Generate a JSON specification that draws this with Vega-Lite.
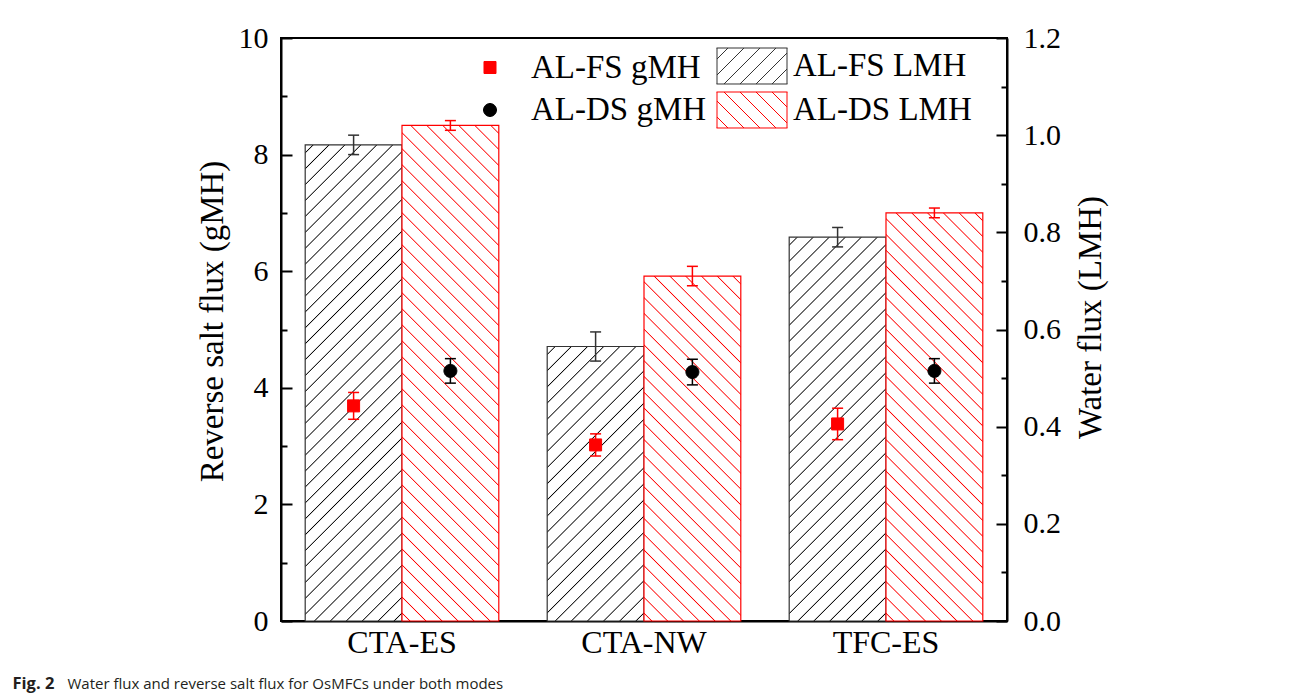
{
  "$schema": "https://vega.github.io/schema/vega-lite/v6.json",
  "width": 726,
  "height": 583,
  "autosize": "none",
  "padding": {"left": 281, "top": 38, "right": 285, "bottom": 74},
  "background": "white",
  "data": {
    "values": [
      {"membrane": "CTA-ES", "mode": "FS", "measure": "gMH", "series": "AL-FS gMH", "value": 3.69, "err": 0.23},
      {"membrane": "CTA-ES", "mode": "DS", "measure": "gMH", "series": "AL-DS gMH", "value": 4.29, "err": 0.21},
      {"membrane": "CTA-NW", "mode": "FS", "measure": "gMH", "series": "AL-FS gMH", "value": 3.02, "err": 0.19},
      {"membrane": "CTA-NW", "mode": "DS", "measure": "gMH", "series": "AL-DS gMH", "value": 4.27, "err": 0.22},
      {"membrane": "TFC-ES", "mode": "FS", "measure": "gMH", "series": "AL-FS gMH", "value": 3.38, "err": 0.27},
      {"membrane": "TFC-ES", "mode": "DS", "measure": "gMH", "series": "AL-DS gMH", "value": 4.29, "err": 0.21},
      {"membrane": "CTA-ES", "mode": "FS", "measure": "LMH", "series": "AL-FS LMH", "value": 0.98, "err": 0.02},
      {"membrane": "CTA-ES", "mode": "DS", "measure": "LMH", "series": "AL-DS LMH", "value": 1.02, "err": 0.01},
      {"membrane": "CTA-NW", "mode": "FS", "measure": "LMH", "series": "AL-FS LMH", "value": 0.565, "err": 0.03},
      {"membrane": "CTA-NW", "mode": "DS", "measure": "LMH", "series": "AL-DS LMH", "value": 0.71, "err": 0.02},
      {"membrane": "TFC-ES", "mode": "FS", "measure": "LMH", "series": "AL-FS LMH", "value": 0.79, "err": 0.02},
      {"membrane": "TFC-ES", "mode": "DS", "measure": "LMH", "series": "AL-DS LMH", "value": 0.84, "err": 0.01}
    ]
  },
  "layer": [
    {
      "transform": [{"filter": "datum.measure === 'LMH'"}],
      "encoding": {
        "x": {"field": "membrane", "type": "nominal", "scale": {"domain": ["CTA-ES", "CTA-NW", "TFC-ES"], "paddingInner": 0.2, "paddingOuter": 0.1},
          "axis": {"orient": "bottom", "title": "Water flux and reverse salt flux for OsMFCs under both modes", "titleX": -214, "titleY": 67, "titleAlign": "left", "titleBaseline": "alphabetic", "titleFont": "Open Sans", "titleFontSize": 15, "titleFontWeight": "normal", "titleColor": "#231f20", "labelAngle": 0, "labelFontSize": 32, "labelPadding": 6, "ticks": false}},
        "xOffset": {"field": "mode", "type": "nominal", "scale": {"domain": ["FS", "DS"], "paddingInner": 0, "paddingOuter": 0}},
        "y": {"field": "value", "type": "quantitative", "scale": {"domain": [0, 1.2], "nice": false},
          "axis": {"orient": "right", "title": "Water flux (LMH)", "values": [0, 0.2, 0.4, 0.6, 0.8, 1.0, 1.2], "format": ".1f", "tickSize": -11, "labelPadding": 27, "titleAngle": 270, "titleX": 83, "titleY": 279, "titleBaseline": "middle", "titleAlign": "center"}}
      },
      "layer": [
        {
          "mark": {"type": "bar", "strokeWidth": 1.2},
          "encoding": {
            "stroke": {"field": "series", "type": "nominal", "scale": {"domain": ["AL-FS gMH", "AL-FS LMH", "AL-DS gMH", "AL-DS LMH"], "range": ["#ff0000", "#333333", "#000000", "#ff0000"]}, "legend": {"title": null, "orient": "none", "legendX": 191, "legendY": 10, "columns": 2, "direction": "horizontal"}},
            "fill": {
              "condition": [
                {"test": "datum.membrane === 'CTA-ES' && datum.mode === 'FS'", "value": {"gradient": "linear", "x1": 0, "y1": 0, "x2": 0.2349, "y2": 1.1555, "stops": [
{"offset":0.0119,"color":"#fff"},{"offset":0.0139,"color":"#000"},{"offset":0.0159,"color":"#fff"},
{"offset":0.0397,"color":"#fff"},{"offset":0.0417,"color":"#000"},{"offset":0.0437,"color":"#fff"},
{"offset":0.0674,"color":"#fff"},{"offset":0.0694,"color":"#000"},{"offset":0.0714,"color":"#fff"},
{"offset":0.0952,"color":"#fff"},{"offset":0.0972,"color":"#000"},{"offset":0.0992,"color":"#fff"},
{"offset":0.1230,"color":"#fff"},{"offset":0.1250,"color":"#000"},{"offset":0.1270,"color":"#fff"},
{"offset":0.1508,"color":"#fff"},{"offset":0.1528,"color":"#000"},{"offset":0.1548,"color":"#fff"},
{"offset":0.1786,"color":"#fff"},{"offset":0.1806,"color":"#000"},{"offset":0.1826,"color":"#fff"},
{"offset":0.2063,"color":"#fff"},{"offset":0.2083,"color":"#000"},{"offset":0.2103,"color":"#fff"},
{"offset":0.2341,"color":"#fff"},{"offset":0.2361,"color":"#000"},{"offset":0.2381,"color":"#fff"},
{"offset":0.2619,"color":"#fff"},{"offset":0.2639,"color":"#000"},{"offset":0.2659,"color":"#fff"},
{"offset":0.2897,"color":"#fff"},{"offset":0.2917,"color":"#000"},{"offset":0.2937,"color":"#fff"},
{"offset":0.3174,"color":"#fff"},{"offset":0.3194,"color":"#000"},{"offset":0.3214,"color":"#fff"},
{"offset":0.3452,"color":"#fff"},{"offset":0.3472,"color":"#000"},{"offset":0.3492,"color":"#fff"},
{"offset":0.3730,"color":"#fff"},{"offset":0.3750,"color":"#000"},{"offset":0.3770,"color":"#fff"},
{"offset":0.4008,"color":"#fff"},{"offset":0.4028,"color":"#000"},{"offset":0.4048,"color":"#fff"},
{"offset":0.4286,"color":"#fff"},{"offset":0.4306,"color":"#000"},{"offset":0.4326,"color":"#fff"},
{"offset":0.4563,"color":"#fff"},{"offset":0.4583,"color":"#000"},{"offset":0.4603,"color":"#fff"},
{"offset":0.4841,"color":"#fff"},{"offset":0.4861,"color":"#000"},{"offset":0.4881,"color":"#fff"},
{"offset":0.5119,"color":"#fff"},{"offset":0.5139,"color":"#000"},{"offset":0.5159,"color":"#fff"},
{"offset":0.5397,"color":"#fff"},{"offset":0.5417,"color":"#000"},{"offset":0.5437,"color":"#fff"},
{"offset":0.5674,"color":"#fff"},{"offset":0.5694,"color":"#000"},{"offset":0.5714,"color":"#fff"},
{"offset":0.5952,"color":"#fff"},{"offset":0.5972,"color":"#000"},{"offset":0.5992,"color":"#fff"},
{"offset":0.6230,"color":"#fff"},{"offset":0.6250,"color":"#000"},{"offset":0.6270,"color":"#fff"},
{"offset":0.6508,"color":"#fff"},{"offset":0.6528,"color":"#000"},{"offset":0.6548,"color":"#fff"},
{"offset":0.6786,"color":"#fff"},{"offset":0.6806,"color":"#000"},{"offset":0.6826,"color":"#fff"},
{"offset":0.7063,"color":"#fff"},{"offset":0.7083,"color":"#000"},{"offset":0.7103,"color":"#fff"},
{"offset":0.7341,"color":"#fff"},{"offset":0.7361,"color":"#000"},{"offset":0.7381,"color":"#fff"},
{"offset":0.7619,"color":"#fff"},{"offset":0.7639,"color":"#000"},{"offset":0.7659,"color":"#fff"},
{"offset":0.7897,"color":"#fff"},{"offset":0.7917,"color":"#000"},{"offset":0.7937,"color":"#fff"},
{"offset":0.8174,"color":"#fff"},{"offset":0.8194,"color":"#000"},{"offset":0.8214,"color":"#fff"},
{"offset":0.8452,"color":"#fff"},{"offset":0.8472,"color":"#000"},{"offset":0.8492,"color":"#fff"},
{"offset":0.8730,"color":"#fff"},{"offset":0.8750,"color":"#000"},{"offset":0.8770,"color":"#fff"},
{"offset":0.9008,"color":"#fff"},{"offset":0.9028,"color":"#000"},{"offset":0.9048,"color":"#fff"},
{"offset":0.9286,"color":"#fff"},{"offset":0.9306,"color":"#000"},{"offset":0.9326,"color":"#fff"},
{"offset":0.9563,"color":"#fff"},{"offset":0.9583,"color":"#000"},{"offset":0.9603,"color":"#fff"},
{"offset":0.9841,"color":"#fff"},{"offset":0.9861,"color":"#000"},{"offset":0.9881,"color":"#fff"}
                ]}},
                {"test": "datum.membrane === 'CTA-ES' && datum.mode === 'DS'", "value": {"gradient": "linear", "x1": 0, "y1": 1, "x2": 0.2249, "y2": -0.1514, "stops": [
{"offset":0.0116,"color":"#fff"},{"offset":0.0135,"color":"#f00"},{"offset":0.0154,"color":"#fff"},
{"offset":0.0386,"color":"#fff"},{"offset":0.0405,"color":"#f00"},{"offset":0.0424,"color":"#fff"},
{"offset":0.0657,"color":"#fff"},{"offset":0.0676,"color":"#f00"},{"offset":0.0695,"color":"#fff"},
{"offset":0.0927,"color":"#fff"},{"offset":0.0946,"color":"#f00"},{"offset":0.0965,"color":"#fff"},
{"offset":0.1197,"color":"#fff"},{"offset":0.1216,"color":"#f00"},{"offset":0.1235,"color":"#fff"},
{"offset":0.1467,"color":"#fff"},{"offset":0.1486,"color":"#f00"},{"offset":0.1505,"color":"#fff"},
{"offset":0.1738,"color":"#fff"},{"offset":0.1757,"color":"#f00"},{"offset":0.1776,"color":"#fff"},
{"offset":0.2008,"color":"#fff"},{"offset":0.2027,"color":"#f00"},{"offset":0.2046,"color":"#fff"},
{"offset":0.2278,"color":"#fff"},{"offset":0.2297,"color":"#f00"},{"offset":0.2316,"color":"#fff"},
{"offset":0.2549,"color":"#fff"},{"offset":0.2568,"color":"#f00"},{"offset":0.2587,"color":"#fff"},
{"offset":0.2819,"color":"#fff"},{"offset":0.2838,"color":"#f00"},{"offset":0.2857,"color":"#fff"},
{"offset":0.3089,"color":"#fff"},{"offset":0.3108,"color":"#f00"},{"offset":0.3127,"color":"#fff"},
{"offset":0.3359,"color":"#fff"},{"offset":0.3378,"color":"#f00"},{"offset":0.3397,"color":"#fff"},
{"offset":0.3630,"color":"#fff"},{"offset":0.3649,"color":"#f00"},{"offset":0.3668,"color":"#fff"},
{"offset":0.3900,"color":"#fff"},{"offset":0.3919,"color":"#f00"},{"offset":0.3938,"color":"#fff"},
{"offset":0.4170,"color":"#fff"},{"offset":0.4189,"color":"#f00"},{"offset":0.4208,"color":"#fff"},
{"offset":0.4440,"color":"#fff"},{"offset":0.4459,"color":"#f00"},{"offset":0.4478,"color":"#fff"},
{"offset":0.4711,"color":"#fff"},{"offset":0.4730,"color":"#f00"},{"offset":0.4749,"color":"#fff"},
{"offset":0.4981,"color":"#fff"},{"offset":0.5000,"color":"#f00"},{"offset":0.5019,"color":"#fff"},
{"offset":0.5251,"color":"#fff"},{"offset":0.5270,"color":"#f00"},{"offset":0.5289,"color":"#fff"},
{"offset":0.5522,"color":"#fff"},{"offset":0.5541,"color":"#f00"},{"offset":0.5560,"color":"#fff"},
{"offset":0.5792,"color":"#fff"},{"offset":0.5811,"color":"#f00"},{"offset":0.5830,"color":"#fff"},
{"offset":0.6062,"color":"#fff"},{"offset":0.6081,"color":"#f00"},{"offset":0.6100,"color":"#fff"},
{"offset":0.6332,"color":"#fff"},{"offset":0.6351,"color":"#f00"},{"offset":0.6370,"color":"#fff"},
{"offset":0.6603,"color":"#fff"},{"offset":0.6622,"color":"#f00"},{"offset":0.6641,"color":"#fff"},
{"offset":0.6873,"color":"#fff"},{"offset":0.6892,"color":"#f00"},{"offset":0.6911,"color":"#fff"},
{"offset":0.7143,"color":"#fff"},{"offset":0.7162,"color":"#f00"},{"offset":0.7181,"color":"#fff"},
{"offset":0.7413,"color":"#fff"},{"offset":0.7432,"color":"#f00"},{"offset":0.7451,"color":"#fff"},
{"offset":0.7684,"color":"#fff"},{"offset":0.7703,"color":"#f00"},{"offset":0.7722,"color":"#fff"},
{"offset":0.7954,"color":"#fff"},{"offset":0.7973,"color":"#f00"},{"offset":0.7992,"color":"#fff"},
{"offset":0.8224,"color":"#fff"},{"offset":0.8243,"color":"#f00"},{"offset":0.8262,"color":"#fff"},
{"offset":0.8495,"color":"#fff"},{"offset":0.8514,"color":"#f00"},{"offset":0.8533,"color":"#fff"},
{"offset":0.8765,"color":"#fff"},{"offset":0.8784,"color":"#f00"},{"offset":0.8803,"color":"#fff"},
{"offset":0.9035,"color":"#fff"},{"offset":0.9054,"color":"#f00"},{"offset":0.9073,"color":"#fff"},
{"offset":0.9305,"color":"#fff"},{"offset":0.9324,"color":"#f00"},{"offset":0.9343,"color":"#fff"},
{"offset":0.9576,"color":"#fff"},{"offset":0.9595,"color":"#f00"},{"offset":0.9614,"color":"#fff"},
{"offset":0.9846,"color":"#fff"},{"offset":0.9865,"color":"#f00"},{"offset":0.9884,"color":"#fff"}
                ]}},
                {"test": "datum.membrane === 'CTA-NW' && datum.mode === 'FS'", "value": {"gradient": "linear", "x1": 0, "y1": 0, "x2": 0.4242, "y2": 1.2030, "stops": [
{"offset":0.0186,"color":"#fff"},{"offset":0.0217,"color":"#000"},{"offset":0.0248,"color":"#fff"},
{"offset":0.0621,"color":"#fff"},{"offset":0.0652,"color":"#000"},{"offset":0.0683,"color":"#fff"},
{"offset":0.1056,"color":"#fff"},{"offset":0.1087,"color":"#000"},{"offset":0.1118,"color":"#fff"},
{"offset":0.1491,"color":"#fff"},{"offset":0.1522,"color":"#000"},{"offset":0.1553,"color":"#fff"},
{"offset":0.1926,"color":"#fff"},{"offset":0.1957,"color":"#000"},{"offset":0.1988,"color":"#fff"},
{"offset":0.2360,"color":"#fff"},{"offset":0.2391,"color":"#000"},{"offset":0.2422,"color":"#fff"},
{"offset":0.2795,"color":"#fff"},{"offset":0.2826,"color":"#000"},{"offset":0.2857,"color":"#fff"},
{"offset":0.3230,"color":"#fff"},{"offset":0.3261,"color":"#000"},{"offset":0.3292,"color":"#fff"},
{"offset":0.3665,"color":"#fff"},{"offset":0.3696,"color":"#000"},{"offset":0.3727,"color":"#fff"},
{"offset":0.4099,"color":"#fff"},{"offset":0.4130,"color":"#000"},{"offset":0.4161,"color":"#fff"},
{"offset":0.4534,"color":"#fff"},{"offset":0.4565,"color":"#000"},{"offset":0.4596,"color":"#fff"},
{"offset":0.4969,"color":"#fff"},{"offset":0.5000,"color":"#000"},{"offset":0.5031,"color":"#fff"},
{"offset":0.5404,"color":"#fff"},{"offset":0.5435,"color":"#000"},{"offset":0.5466,"color":"#fff"},
{"offset":0.5839,"color":"#fff"},{"offset":0.5870,"color":"#000"},{"offset":0.5901,"color":"#fff"},
{"offset":0.6273,"color":"#fff"},{"offset":0.6304,"color":"#000"},{"offset":0.6335,"color":"#fff"},
{"offset":0.6708,"color":"#fff"},{"offset":0.6739,"color":"#000"},{"offset":0.6770,"color":"#fff"},
{"offset":0.7143,"color":"#fff"},{"offset":0.7174,"color":"#000"},{"offset":0.7205,"color":"#fff"},
{"offset":0.7578,"color":"#fff"},{"offset":0.7609,"color":"#000"},{"offset":0.7640,"color":"#fff"},
{"offset":0.8012,"color":"#fff"},{"offset":0.8043,"color":"#000"},{"offset":0.8074,"color":"#fff"},
{"offset":0.8447,"color":"#fff"},{"offset":0.8478,"color":"#000"},{"offset":0.8509,"color":"#fff"},
{"offset":0.8882,"color":"#fff"},{"offset":0.8913,"color":"#000"},{"offset":0.8944,"color":"#fff"},
{"offset":0.9317,"color":"#fff"},{"offset":0.9348,"color":"#000"},{"offset":0.9379,"color":"#fff"},
{"offset":0.9752,"color":"#fff"},{"offset":0.9783,"color":"#000"},{"offset":0.9814,"color":"#fff"}
                ]}},
                {"test": "datum.membrane === 'CTA-NW' && datum.mode === 'DS'", "value": {"gradient": "linear", "x1": 0, "y1": 1, "x2": 0.3332, "y2": -0.1872, "stops": [
{"offset":0.0153,"color":"#fff"},{"offset":0.0179,"color":"#f00"},{"offset":0.0205,"color":"#fff"},
{"offset":0.0510,"color":"#fff"},{"offset":0.0536,"color":"#f00"},{"offset":0.0562,"color":"#fff"},
{"offset":0.0867,"color":"#fff"},{"offset":0.0893,"color":"#f00"},{"offset":0.0919,"color":"#fff"},
{"offset":0.1224,"color":"#fff"},{"offset":0.1250,"color":"#f00"},{"offset":0.1276,"color":"#fff"},
{"offset":0.1581,"color":"#fff"},{"offset":0.1607,"color":"#f00"},{"offset":0.1633,"color":"#fff"},
{"offset":0.1938,"color":"#fff"},{"offset":0.1964,"color":"#f00"},{"offset":0.1990,"color":"#fff"},
{"offset":0.2295,"color":"#fff"},{"offset":0.2321,"color":"#f00"},{"offset":0.2347,"color":"#fff"},
{"offset":0.2653,"color":"#fff"},{"offset":0.2679,"color":"#f00"},{"offset":0.2705,"color":"#fff"},
{"offset":0.3010,"color":"#fff"},{"offset":0.3036,"color":"#f00"},{"offset":0.3062,"color":"#fff"},
{"offset":0.3367,"color":"#fff"},{"offset":0.3393,"color":"#f00"},{"offset":0.3419,"color":"#fff"},
{"offset":0.3724,"color":"#fff"},{"offset":0.3750,"color":"#f00"},{"offset":0.3776,"color":"#fff"},
{"offset":0.4081,"color":"#fff"},{"offset":0.4107,"color":"#f00"},{"offset":0.4133,"color":"#fff"},
{"offset":0.4438,"color":"#fff"},{"offset":0.4464,"color":"#f00"},{"offset":0.4490,"color":"#fff"},
{"offset":0.4795,"color":"#fff"},{"offset":0.4821,"color":"#f00"},{"offset":0.4847,"color":"#fff"},
{"offset":0.5153,"color":"#fff"},{"offset":0.5179,"color":"#f00"},{"offset":0.5205,"color":"#fff"},
{"offset":0.5510,"color":"#fff"},{"offset":0.5536,"color":"#f00"},{"offset":0.5562,"color":"#fff"},
{"offset":0.5867,"color":"#fff"},{"offset":0.5893,"color":"#f00"},{"offset":0.5919,"color":"#fff"},
{"offset":0.6224,"color":"#fff"},{"offset":0.6250,"color":"#f00"},{"offset":0.6276,"color":"#fff"},
{"offset":0.6581,"color":"#fff"},{"offset":0.6607,"color":"#f00"},{"offset":0.6633,"color":"#fff"},
{"offset":0.6938,"color":"#fff"},{"offset":0.6964,"color":"#f00"},{"offset":0.6990,"color":"#fff"},
{"offset":0.7295,"color":"#fff"},{"offset":0.7321,"color":"#f00"},{"offset":0.7347,"color":"#fff"},
{"offset":0.7653,"color":"#fff"},{"offset":0.7679,"color":"#f00"},{"offset":0.7705,"color":"#fff"},
{"offset":0.8010,"color":"#fff"},{"offset":0.8036,"color":"#f00"},{"offset":0.8062,"color":"#fff"},
{"offset":0.8367,"color":"#fff"},{"offset":0.8393,"color":"#f00"},{"offset":0.8419,"color":"#fff"},
{"offset":0.8724,"color":"#fff"},{"offset":0.8750,"color":"#f00"},{"offset":0.8776,"color":"#fff"},
{"offset":0.9081,"color":"#fff"},{"offset":0.9107,"color":"#f00"},{"offset":0.9133,"color":"#fff"},
{"offset":0.9438,"color":"#fff"},{"offset":0.9464,"color":"#f00"},{"offset":0.9490,"color":"#fff"},
{"offset":0.9795,"color":"#fff"},{"offset":0.9821,"color":"#f00"},{"offset":0.9847,"color":"#fff"}
                ]}},
                {"test": "datum.membrane === 'TFC-ES' && datum.mode === 'FS'", "value": {"gradient": "linear", "x1": 0, "y1": 0, "x2": 0.2969, "y2": 1.1773, "stops": [
{"offset":0.0143,"color":"#fff"},{"offset":0.0167,"color":"#000"},{"offset":0.0191,"color":"#fff"},
{"offset":0.0476,"color":"#fff"},{"offset":0.0500,"color":"#000"},{"offset":0.0524,"color":"#fff"},
{"offset":0.0809,"color":"#fff"},{"offset":0.0833,"color":"#000"},{"offset":0.0857,"color":"#fff"},
{"offset":0.1143,"color":"#fff"},{"offset":0.1167,"color":"#000"},{"offset":0.1191,"color":"#fff"},
{"offset":0.1476,"color":"#fff"},{"offset":0.1500,"color":"#000"},{"offset":0.1524,"color":"#fff"},
{"offset":0.1809,"color":"#fff"},{"offset":0.1833,"color":"#000"},{"offset":0.1857,"color":"#fff"},
{"offset":0.2143,"color":"#fff"},{"offset":0.2167,"color":"#000"},{"offset":0.2191,"color":"#fff"},
{"offset":0.2476,"color":"#fff"},{"offset":0.2500,"color":"#000"},{"offset":0.2524,"color":"#fff"},
{"offset":0.2809,"color":"#fff"},{"offset":0.2833,"color":"#000"},{"offset":0.2857,"color":"#fff"},
{"offset":0.3143,"color":"#fff"},{"offset":0.3167,"color":"#000"},{"offset":0.3191,"color":"#fff"},
{"offset":0.3476,"color":"#fff"},{"offset":0.3500,"color":"#000"},{"offset":0.3524,"color":"#fff"},
{"offset":0.3809,"color":"#fff"},{"offset":0.3833,"color":"#000"},{"offset":0.3857,"color":"#fff"},
{"offset":0.4143,"color":"#fff"},{"offset":0.4167,"color":"#000"},{"offset":0.4191,"color":"#fff"},
{"offset":0.4476,"color":"#fff"},{"offset":0.4500,"color":"#000"},{"offset":0.4524,"color":"#fff"},
{"offset":0.4809,"color":"#fff"},{"offset":0.4833,"color":"#000"},{"offset":0.4857,"color":"#fff"},
{"offset":0.5143,"color":"#fff"},{"offset":0.5167,"color":"#000"},{"offset":0.5191,"color":"#fff"},
{"offset":0.5476,"color":"#fff"},{"offset":0.5500,"color":"#000"},{"offset":0.5524,"color":"#fff"},
{"offset":0.5809,"color":"#fff"},{"offset":0.5833,"color":"#000"},{"offset":0.5857,"color":"#fff"},
{"offset":0.6143,"color":"#fff"},{"offset":0.6167,"color":"#000"},{"offset":0.6191,"color":"#fff"},
{"offset":0.6476,"color":"#fff"},{"offset":0.6500,"color":"#000"},{"offset":0.6524,"color":"#fff"},
{"offset":0.6809,"color":"#fff"},{"offset":0.6833,"color":"#000"},{"offset":0.6857,"color":"#fff"},
{"offset":0.7143,"color":"#fff"},{"offset":0.7167,"color":"#000"},{"offset":0.7191,"color":"#fff"},
{"offset":0.7476,"color":"#fff"},{"offset":0.7500,"color":"#000"},{"offset":0.7524,"color":"#fff"},
{"offset":0.7809,"color":"#fff"},{"offset":0.7833,"color":"#000"},{"offset":0.7857,"color":"#fff"},
{"offset":0.8143,"color":"#fff"},{"offset":0.8167,"color":"#000"},{"offset":0.8191,"color":"#fff"},
{"offset":0.8476,"color":"#fff"},{"offset":0.8500,"color":"#000"},{"offset":0.8524,"color":"#fff"},
{"offset":0.8809,"color":"#fff"},{"offset":0.8833,"color":"#000"},{"offset":0.8857,"color":"#fff"},
{"offset":0.9143,"color":"#fff"},{"offset":0.9167,"color":"#000"},{"offset":0.9191,"color":"#fff"},
{"offset":0.9476,"color":"#fff"},{"offset":0.9500,"color":"#000"},{"offset":0.9524,"color":"#fff"},
{"offset":0.9809,"color":"#fff"},{"offset":0.9833,"color":"#000"},{"offset":0.9857,"color":"#fff"}
                ]}}
              ],
              "value": {"gradient": "linear", "x1": 0, "y1": 1, "x2": 0.2778, "y2": -0.1713, "stops": [
{"offset":0.0133,"color":"#fff"},{"offset":0.0156,"color":"#f00"},{"offset":0.0179,"color":"#fff"},
{"offset":0.0446,"color":"#fff"},{"offset":0.0469,"color":"#f00"},{"offset":0.0492,"color":"#fff"},
{"offset":0.0758,"color":"#fff"},{"offset":0.0781,"color":"#f00"},{"offset":0.0804,"color":"#fff"},
{"offset":0.1071,"color":"#fff"},{"offset":0.1094,"color":"#f00"},{"offset":0.1117,"color":"#fff"},
{"offset":0.1383,"color":"#fff"},{"offset":0.1406,"color":"#f00"},{"offset":0.1429,"color":"#fff"},
{"offset":0.1696,"color":"#fff"},{"offset":0.1719,"color":"#f00"},{"offset":0.1742,"color":"#fff"},
{"offset":0.2008,"color":"#fff"},{"offset":0.2031,"color":"#f00"},{"offset":0.2054,"color":"#fff"},
{"offset":0.2321,"color":"#fff"},{"offset":0.2344,"color":"#f00"},{"offset":0.2367,"color":"#fff"},
{"offset":0.2633,"color":"#fff"},{"offset":0.2656,"color":"#f00"},{"offset":0.2679,"color":"#fff"},
{"offset":0.2946,"color":"#fff"},{"offset":0.2969,"color":"#f00"},{"offset":0.2992,"color":"#fff"},
{"offset":0.3258,"color":"#fff"},{"offset":0.3281,"color":"#f00"},{"offset":0.3304,"color":"#fff"},
{"offset":0.3571,"color":"#fff"},{"offset":0.3594,"color":"#f00"},{"offset":0.3617,"color":"#fff"},
{"offset":0.3883,"color":"#fff"},{"offset":0.3906,"color":"#f00"},{"offset":0.3929,"color":"#fff"},
{"offset":0.4196,"color":"#fff"},{"offset":0.4219,"color":"#f00"},{"offset":0.4242,"color":"#fff"},
{"offset":0.4508,"color":"#fff"},{"offset":0.4531,"color":"#f00"},{"offset":0.4554,"color":"#fff"},
{"offset":0.4821,"color":"#fff"},{"offset":0.4844,"color":"#f00"},{"offset":0.4867,"color":"#fff"},
{"offset":0.5133,"color":"#fff"},{"offset":0.5156,"color":"#f00"},{"offset":0.5179,"color":"#fff"},
{"offset":0.5446,"color":"#fff"},{"offset":0.5469,"color":"#f00"},{"offset":0.5492,"color":"#fff"},
{"offset":0.5758,"color":"#fff"},{"offset":0.5781,"color":"#f00"},{"offset":0.5804,"color":"#fff"},
{"offset":0.6071,"color":"#fff"},{"offset":0.6094,"color":"#f00"},{"offset":0.6117,"color":"#fff"},
{"offset":0.6383,"color":"#fff"},{"offset":0.6406,"color":"#f00"},{"offset":0.6429,"color":"#fff"},
{"offset":0.6696,"color":"#fff"},{"offset":0.6719,"color":"#f00"},{"offset":0.6742,"color":"#fff"},
{"offset":0.7008,"color":"#fff"},{"offset":0.7031,"color":"#f00"},{"offset":0.7054,"color":"#fff"},
{"offset":0.7321,"color":"#fff"},{"offset":0.7344,"color":"#f00"},{"offset":0.7367,"color":"#fff"},
{"offset":0.7633,"color":"#fff"},{"offset":0.7656,"color":"#f00"},{"offset":0.7679,"color":"#fff"},
{"offset":0.7946,"color":"#fff"},{"offset":0.7969,"color":"#f00"},{"offset":0.7992,"color":"#fff"},
{"offset":0.8258,"color":"#fff"},{"offset":0.8281,"color":"#f00"},{"offset":0.8304,"color":"#fff"},
{"offset":0.8571,"color":"#fff"},{"offset":0.8594,"color":"#f00"},{"offset":0.8617,"color":"#fff"},
{"offset":0.8883,"color":"#fff"},{"offset":0.8906,"color":"#f00"},{"offset":0.8929,"color":"#fff"},
{"offset":0.9196,"color":"#fff"},{"offset":0.9219,"color":"#f00"},{"offset":0.9242,"color":"#fff"},
{"offset":0.9508,"color":"#fff"},{"offset":0.9531,"color":"#f00"},{"offset":0.9554,"color":"#fff"},
{"offset":0.9821,"color":"#fff"},{"offset":0.9844,"color":"#f00"},{"offset":0.9867,"color":"#fff"}
              ]}
            }
          }
        },
        {
          "mark": {"type": "errorbar", "ticks": {"size": 11, "thickness": 1.5, "opacity": 1}, "rule": {"strokeWidth": 1.5, "opacity": 1}},
          "encoding": {
            "yError": {"field": "err"},
            "color": {"field": "series", "type": "nominal", "scale": {"domain": ["AL-FS gMH", "AL-FS LMH", "AL-DS gMH", "AL-DS LMH"], "range": ["#ff0000", "#333333", "#000000", "#ff0000"]}, "legend": null}
          }
        }
      ]
    },
    {
      "transform": [{"filter": "datum.measure === 'gMH'"}],
      "encoding": {
        "x": {"field": "membrane", "type": "nominal", "axis": null},
        "xOffset": {"field": "mode", "type": "nominal", "scale": {"domain": ["FS", "DS"], "paddingInner": 0, "paddingOuter": 0}},
        "y": {"field": "value", "type": "quantitative", "scale": {"domain": [0, 10], "nice": false},
          "axis": {"orient": "left", "title": "Reverse salt flux (gMH)", "values": [0, 2, 4, 6, 8, 10], "tickSize": -11, "labelPadding": 24, "titleAngle": 270, "titleX": -69, "titleY": 283, "titleBaseline": "middle", "titleAlign": "center"}}
      },
      "layer": [
        {
          "mark": {"type": "errorbar", "ticks": {"size": 11, "thickness": 1.5, "opacity": 1}, "rule": {"strokeWidth": 1.5, "opacity": 1}},
          "encoding": {
            "yError": {"field": "err"},
            "color": {"field": "series", "type": "nominal", "scale": {"domain": ["AL-FS gMH", "AL-FS LMH", "AL-DS gMH", "AL-DS LMH"], "range": ["#ff0000", "#333333", "#000000", "#ff0000"]}, "legend": null}
          }
        },
        {
          "mark": {"type": "point", "filled": true, "opacity": 1, "size": 1225, "strokeWidth": 1},
          "encoding": {
            "shape": {"field": "series", "type": "nominal", "scale": {"domain": ["AL-FS gMH", "AL-FS LMH", "AL-DS gMH", "AL-DS LMH"], "range": [
              "M-0.343,-0.343H0.343V0.343H-0.343Z",
              "M-2.028,-1.028H2.028M2,-1.028V1.028M2.028,1.028H-2.028M-2,1.028V-1.028M-2,-0.4L-1.372,-1.028M-2,0.514L-0.458,-1.028M-1.6,1.028L0.456,-1.028M-0.686,1.028L1.37,-1.028M0.23,1.028L2,-0.742M1.144,1.028L2,0.172",
              "M0.371,0A0.371,0.371,0,1,1,-0.371,0A0.371,0.371,0,1,1,0.371,0Z",
              "M-2.028,-1.028H2.028M2,-1.028V1.028M2.028,1.028H-2.028M-2,1.028V-1.028M-2,0.4L-1.372,1.028M-2,-0.514L-0.458,1.028M-1.6,-1.028L0.456,1.028M-0.686,-1.028L1.37,1.028M0.23,-1.028L2,0.742M1.144,-1.028L2,-0.172"
            ]}, "legend": {"title": null, "orient": "none", "legendX": 191, "legendY": 10, "columns": 2, "direction": "horizontal"}},
            "fill": {"field": "series", "type": "nominal", "scale": {"domain": ["AL-FS gMH", "AL-FS LMH", "AL-DS gMH", "AL-DS LMH"], "range": ["#ff0000", "#ffffff", "#000000", "#ffffff"]}, "legend": {"title": null, "orient": "none", "legendX": 191, "legendY": 10, "columns": 2, "direction": "horizontal"}},
            "stroke": {"field": "series", "type": "nominal", "scale": {"domain": ["AL-FS gMH", "AL-FS LMH", "AL-DS gMH", "AL-DS LMH"], "range": ["#ff0000", "#333333", "#000000", "#ff0000"]}, "legend": {"title": null, "orient": "none", "legendX": 191, "legendY": 10, "columns": 2, "direction": "horizontal"}}
          }
        }
      ]
    },
    {
      "transform": [{"filter": "datum.measure === 'gMH'"}],
      "mark": {"type": "point", "opacity": 0},
      "encoding": {
        "x": {"field": "membrane", "type": "nominal", "axis": {"orient": "bottom", "title": "Fig. 2", "titleX": -269, "titleY": 67, "titleAlign": "left", "titleBaseline": "alphabetic", "titleFont": "Open Sans", "titleFontSize": 16.5, "titleFontWeight": "bold", "titleColor": "#231f20", "labels": false, "ticks": false, "domain": false}},
        "y": {"field": "value", "type": "quantitative", "scale": {"domain": [0, 10], "nice": false},
          "axis": {"orient": "left", "values": [1, 3, 5, 7, 9], "tickSize": -6, "labels": false, "domain": false, "title": null}}
      }
    },
    {
      "transform": [{"filter": "datum.measure === 'LMH'"}],
      "mark": {"type": "point", "opacity": 0},
      "encoding": {
        "x": {"field": "membrane", "type": "nominal", "axis": null},
        "y": {"field": "value", "type": "quantitative", "scale": {"domain": [0, 1.2], "nice": false},
          "axis": {"orient": "right", "values": [0.1, 0.3, 0.5, 0.7, 0.9, 1.1], "tickSize": -6, "labels": false, "domain": false, "title": null}}
      }
    }
  ],
  "resolve": {"scale": {"y": "independent"}, "axis": {"y": "independent", "x": "independent"}},
  "config": {
    "view": {"stroke": "#000000", "strokeWidth": 2},
    "font": "Liberation Serif",
    "axis": {"labelFont": "Liberation Serif", "labelColor": "#000000", "labelFontSize": 30, "titleFont": "Liberation Serif", "titleColor": "#000000", "titleFontSize": 33, "titleFontWeight": "normal", "domainColor": "#000000", "domainWidth": 2, "tickColor": "#000000", "tickWidth": 2, "grid": false},
    "legend": {"symbolSize": 1225, "symbolStrokeWidth": 1, "labelFont": "Liberation Serif", "labelFontSize": 33, "labelColor": "#000000", "labelOffset": 23, "labelLimit": 400, "padding": 0, "columnPadding": 7, "rowPadding": 4}
  }
}
